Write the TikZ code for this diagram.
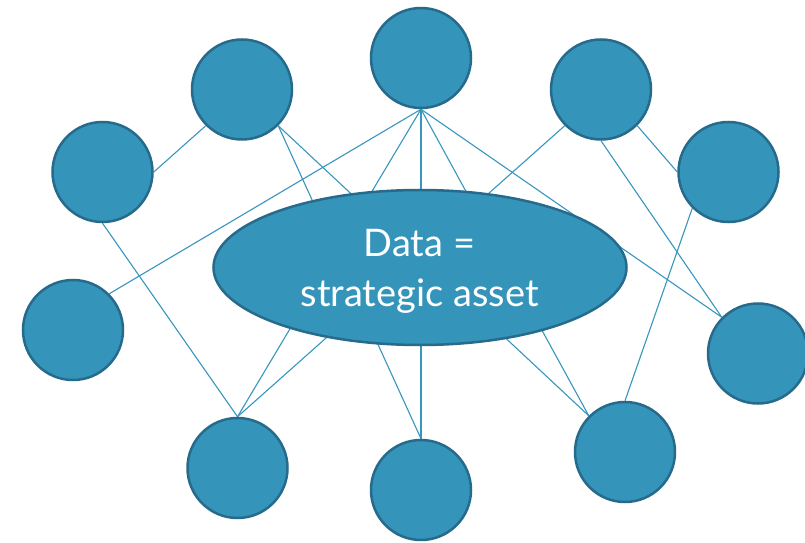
\documentclass[tikz,border=0pt]{standalone}
\usepackage{fontspec}
\setmainfont{Lato}
\usetikzlibrary{shapes.geometric,backgrounds}
\definecolor{nodefill}{RGB}{53,148,186}
\definecolor{nodeedge}{RGB}{38,106,140}
\definecolor{linkcol}{RGB}{55,150,190}
\tikzset{
  hub/.style={circle,draw=nodeedge,fill=nodefill,line width=2.5bp,minimum size=100bp,inner sep=0pt},
  core/.style={ellipse,draw=nodeedge,fill=nodefill,line width=2.5bp,minimum width=413bp,minimum height=155bp,inner sep=0pt},
  caption/.style={anchor=base,text=white,inner sep=0pt,font=\fontsize{38bp}{44bp}\selectfont},
  link/.style={draw=linkcol,line width=1.1bp}
}
\begin{document}
\begin{tikzpicture}[x=1bp,y=-1bp]
\clip (0,0) rectangle (805,543);
\useasboundingbox (0,0) rectangle (805,543);
\node[hub] (A) at (102.5,172) {};
\node[hub] (B) at (242,89.5) {};
\node[hub] (C) at (421,58) {};
\node[hub] (D) at (601,89.5) {};
\node[hub] (E) at (728.5,172) {};
\node[hub] (F) at (73,330) {};
\node[hub] (G) at (237.5,468) {};
\node[hub] (H) at (421,490) {};
\node[hub] (I) at (625,452) {};
\node[hub] (J) at (758,353.5) {};
\node[core] (M) at (420,267.5) {};
\node[caption] (t1) at (419.5,256.7) {Data =};
\node[caption] (t2) at (419.6,306.7) {strategic asset};
\begin{scope}[on background layer]
\draw[link] (A.east) -- (B.south west);
\draw[link] (A.south) -- (G.north);
\draw[link] (B.south east) -- (H.north);
\draw[link] (B.south east) -- (I.north west);
\draw[link] (C.south) -- (F.north east);
\draw[link] (C.south) -- (G.north);
\draw[link] (C.south) -- (H.north);
\draw[link] (C.south) -- (I.north west);
\draw[link] (C.south) -- (J.north west);
\draw[link] (D.south west) -- (G.north);
\draw[link] (D.south) -- (J.north west);
\draw[link] (D.south east) -- (E.west);
\draw[link] (E.south west) -- (I.north);
\end{scope}
\end{tikzpicture}
\end{document}
